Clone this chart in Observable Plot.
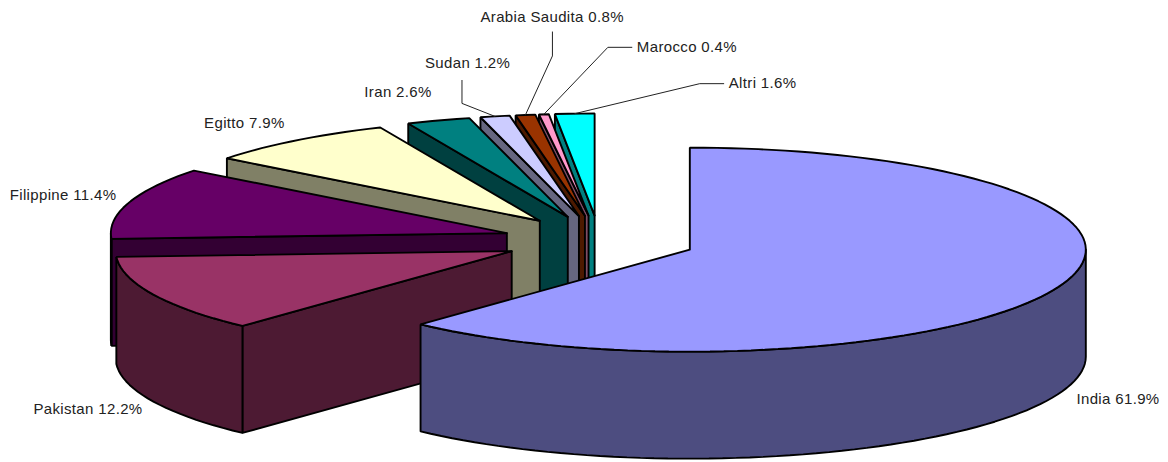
<!DOCTYPE html>
<html>
<head>
<meta charset="utf-8">
<style>
  html, body { margin: 0; padding: 0; background: #fff; }
  svg { display: block; }
  svg text { letter-spacing: 0.35px; }
</style>
<script src="https://cdn.jsdelivr.net/npm/d3@7"></script>
<script src="https://cdn.jsdelivr.net/npm/@observablehq/plot@0.6"></script>
</head>
<body>
<script>
// Foreign workers by country of origin, share of total (%)
const countries = ["India", "Pakistan", "Filippine", "Egitto", "Iran", "Sudan", "Arabia Saudita", "Marocco", "Altri"];
const shares = [61.9, 12.2, 11.4, 7.9, 2.6, 1.2, 0.8, 0.4, 1.6];
const topColors = ["#9999ff", "#993366", "#660066", "#ffffcc", "#008080", "#ccccff", "#993300", "#ff99cc", "#00ffff"];
const wallColors = ["#4d4d80", "#4d1a33", "#330033", "#808066", "#004040", "#666680", "#4d1a00", "#804d66", "#008080"];

// Label placement relative to each slice's rim, in pixels
const labelNudge = [[18, 112], [-120, 115], [-119, -8], [-92, -17], [-74, -28], [-70, -53], [-45, -98], [93, -67], [154, -30]];
// Elbowed leader lines for the narrow slices: rim -> elbow -> label end, in pixels
const leaderNudge = {
  5: [[-33, -13], [-33, -36]],
  6: [[27, -59], [27, -83]],
  7: [[64, -67], [88, -67]],
  8: [[125, -30], [149, -30]]
};

// Pie geometry: a unit circle tilted into an ellipse
const W = 1168, H = 462;
const pxX = 396, pxY = 102;      // pixels per pie radius, across and along the tilt
const originX = 599, originY = 240;
const explode = 0.245;           // slices pulled out along their bisector
const depth = 107 / pxY;         // thickness of the pie
const step = 2 * Math.PI / 180;

const total = d3.sum(shares);
const cumulative = d3.cumsum(shares);
const slices = shares.map((v, i) => {
  const a0 = (cumulative[i] - v) / total * 2 * Math.PI;
  const a1 = cumulative[i] / total * 2 * Math.PI;
  const m = (a0 + a1) / 2;
  return {i, a0, a1, m, cx: explode * Math.sin(m), cy: -explode * Math.cos(m)};
});

const arcPoints = (s, from, to, dy = 0) => {
  const n = Math.max(1, Math.ceil((to - from) / step));
  return d3.range(n + 1).map(k => {
    const t = from + (to - from) * k / n;
    return [s.cx + Math.sin(t), s.cy - Math.cos(t) + dy];
  });
};

// Painter's order: the back slices first, from the top of the pie round to the front
const paintOrder = [8, 7, 6, 5, 4, 3, 2, 1, 0];
const faces = [];
const addFace = (id, color, pts) => {
  [...pts, pts[0]].forEach(([x, y]) => faces.push({face: id, color, x, y}));
};
for (const i of paintOrder) {
  const s = slices[i];
  // cut side facing the viewer
  if (Math.sin(s.a0) < -1e-6) {
    const ox = s.cx + Math.sin(s.a0), oy = s.cy - Math.cos(s.a0);
    addFace(`cut-${i}`, wallColors[i], [[s.cx, s.cy], [ox, oy], [ox, oy + depth], [s.cx, s.cy + depth]]);
  }
  // rim wall, only on the near half of the ellipse
  const lo = Math.max(s.a0, Math.PI / 2), hi = Math.min(s.a1, 3 * Math.PI / 2);
  if (hi > lo) {
    addFace(`rim-${i}`, wallColors[i], [...arcPoints(s, lo, hi), ...arcPoints(s, lo, hi, depth).reverse()]);
  }
  // top surface
  addFace(`top-${i}`, topColors[i], [[s.cx, s.cy], ...arcPoints(s, s.a0, s.a1)]);
}

const rim = s => [(1 + explode) * Math.sin(s.m), -(1 + explode) * Math.cos(s.m)];
const labels = slices.map(s => {
  const [x, y] = rim(s);
  const [dx, dy] = labelNudge[s.i];
  return {x: x + dx / pxX, y: y + dy / pxY, text: `${countries[s.i]} ${shares[s.i].toFixed(1)}%`};
});
const leaders = Object.entries(leaderNudge).flatMap(([i, bends]) => {
  const [x, y] = rim(slices[+i]);
  return [[x, y], ...bends.map(([dx, dy]) => [x + dx / pxX, y + dy / pxY])]
    .map(([lx, ly]) => ({leader: i, x: lx, y: ly}));
});

const chart = Plot.plot({
  width: W,
  height: H,
  margin: 0,
  style: {background: "#fff"},
  x: {domain: [-originX / pxX, (W - originX) / pxX], range: [0, W], axis: null},
  y: {domain: [-originY / pxY, (H - originY) / pxY], range: [0, H], axis: null},
  marks: [
    Plot.line(faces, {x: "x", y: "y", z: "face", fill: "color", stroke: "#000", strokeWidth: 1.9, strokeLinejoin: "miter"}),
    Plot.line(leaders, {x: "x", y: "y", z: "leader", stroke: "#222", strokeWidth: 1}),
    Plot.text(labels, {x: "x", y: "y", text: "text", textAnchor: "start", fontFamily: "Liberation Sans, Arial, sans-serif", fontSize: 15, fill: "#222"})
  ]
});
document.body.appendChild(chart);
</script>
</body>
</html>
